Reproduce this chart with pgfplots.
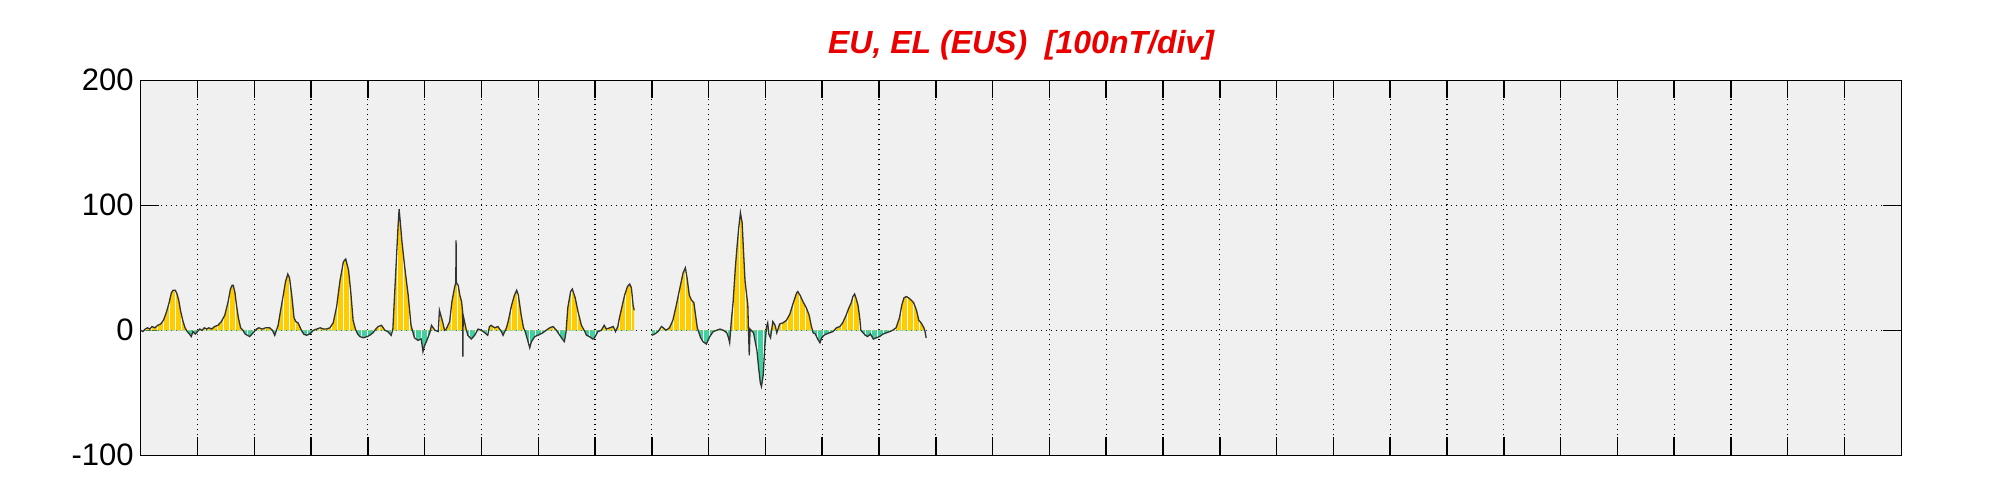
\documentclass[border=0pt]{standalone}
\usepackage{fontspec}
\setmainfont{Liberation Sans}
\usepackage{pgfplots}
\pgfplotsset{compat=1.18}
\usepackage{pgfplotstable}
\usetikzlibrary{patterns}
\definecolor{bggray}{RGB}{240,240,240}
\definecolor{posfill}{RGB}{255,204,0}
\definecolor{negfill}{RGB}{66,208,160}
\definecolor{linecol}{RGB}{50,50,50}
\definecolor{titlered}{RGB}{235,0,0}

\pgfplotstableread{
x y
0.00 0
0.04 -1
0.08 1
0.12 2
0.16 1
0.20 3
0.25 2
0.30 4
0.35 5
0.40 8
0.45 14
0.50 22
0.54 30
0.57 32
0.61 32
0.64 29
0.67 24
0.70 16
0.74 8
0.78 2
0.82 -1
0.86 -3
0.89 -5
0.92 -1
0.96 -3
1.00 -1
1.04 1
1.08 0
1.12 2
1.16 1
1.20 2
1.25 1
1.30 3
1.36 4
1.42 7
1.48 12
1.54 23
1.58 33
1.61 36
1.63 36
1.66 30
1.69 19
1.72 10
1.76 2
1.80 0
1.84 -3
1.88 -4
1.92 -5
1.96 -3
2.00 -1
2.04 1
2.08 2
2.14 1
2.20 2
2.27 2
2.32 0
2.36 -4
2.39 0
2.42 4
2.46 15
2.51 28
2.55 39
2.59 45
2.62 42
2.66 28
2.70 10
2.73 7
2.77 6
2.80 3
2.83 0
2.87 -3
2.92 -4
2.97 -3
3.00 -2
3.04 0
3.10 1
3.16 2
3.22 1
3.27 1
3.33 2
3.39 6
3.45 19
3.51 40
3.57 55
3.61 57
3.66 48
3.70 30
3.74 8
3.78 1
3.82 -3
3.86 -5
3.92 -6
3.99 -5
4.03 -4
4.09 -2
4.14 1
4.18 3
4.24 4
4.30 0
4.35 -1
4.41 -4
4.44 1
4.47 28
4.50 55
4.53 82
4.55 97
4.57 87
4.60 71
4.65 50
4.71 28
4.76 4
4.79 -1
4.82 -6
4.88 -8
4.94 -7
4.97 -17
5.00 -12
5.03 -9
5.09 -2
5.12 4
5.18 0
5.24 -1
5.26 16
5.29 11
5.32 6
5.35 0
5.38 1
5.44 7
5.48 23
5.53 35
5.548 38
5.553 72
5.558 38
5.59 36
5.62 28
5.65 23
5.668 15
5.673 -21
5.678 12
5.73 1
5.76 -4
5.82 -7
5.88 -4
5.94 1
6.00 0
6.06 -2
6.11 -4
6.14 3
6.17 4
6.23 2
6.29 3
6.35 -1
6.38 -4
6.41 -1
6.44 2
6.47 7
6.53 20
6.58 28
6.62 32
6.65 28
6.70 12
6.74 2
6.77 -1
6.82 -9
6.85 -14
6.88 -9
6.94 -5
6.99 -4
7.08 -2
7.14 0
7.20 2
7.26 3
7.32 0
7.38 -4
7.44 -8
7.46 -9
7.49 -1
7.52 18
7.57 31
7.60 33
7.65 26
7.70 15
7.76 4
7.82 -1
7.85 -4
7.90 -5
7.96 -7
7.99 -6
8.05 -1
8.11 0
8.16 4
8.20 1
8.26 2
8.32 3
8.36 -1
8.40 3
8.43 10
8.47 18
8.52 28
8.57 35
8.61 37
8.64 34
8.67 20
8.69 16
}\segA

\pgfplotstableread{
x y
9.00 -4
9.05 -3
9.11 -1
9.17 3
9.20 2
9.25 0
9.31 2
9.37 8
9.43 20
9.49 33
9.55 46
9.59 50
9.62 42
9.66 28
9.70 24
9.74 22
9.77 12
9.80 2
9.83 -2
9.86 -6
9.90 -9
9.96 -11
10.02 -5
10.08 -1
10.14 0
10.20 1
10.26 0
10.32 -2
10.35 -6
10.37 -10
10.40 8
10.43 22
10.47 50
10.50 67
10.53 82
10.56 94
10.59 86
10.61 67
10.64 40
10.67 28
10.69 20
10.70 2
10.715 -20
10.73 1
10.79 -2
10.82 -9
10.85 -16
10.88 -30
10.91 -42
10.93 -45
10.96 -36
10.99 -12
11.02 3
11.04 6
11.06 -3
11.09 -6
11.13 7
11.17 4
11.20 -2
11.25 5
11.31 6
11.37 8
11.43 13
11.49 22
11.55 30
11.57 31
11.61 28
11.66 23
11.72 18
11.77 12
11.81 3
11.84 -2
11.88 -3
11.92 -7
11.96 -10
11.99 -6
12.03 -4
12.07 -3
12.13 -2
12.19 -1
12.25 2
12.31 3
12.36 6
12.42 12
12.47 18
12.51 22
12.54 27
12.57 29
12.60 25
12.63 20
12.66 10
12.68 0
12.72 -2
12.76 -4
12.80 -5
12.85 -3
12.90 -7
12.95 -6
13.01 -5
13.07 -3
13.13 -2
13.19 -1
13.24 0
13.30 2
13.36 10
13.40 20
13.44 26
13.48 27
13.52 26
13.57 24
13.61 22
13.66 16
13.70 8
13.74 6
13.79 2
13.81 -1
13.83 -6
}\segB

\pgfplotsset{
  overlayaxis/.style={anchor=south west, scale only axis, width=880.3pt,
    xmin=0, xmax=31, hide axis},
  posarea/.style={draw=none, fill=posfill, postaction={pattern=vertical lines, pattern color=white}},
  negarea/.style={draw=none, fill=negfill, postaction={pattern=vertical lines, pattern color=white}},
}

\begin{document}
\begin{tikzpicture}
\useasboundingbox (-70.35pt,-22.35pt) rectangle (930.15pt,227.65pt);
% frame, background, grid, ticks
\begin{axis}[
  at={(0,0)}, anchor=south west,
  scale only axis, width=880.3pt, height=187.5pt,
  xmin=0, xmax=31, ymin=-100, ymax=200,
  xtick={0,1,...,31},
  xticklabel style={opacity=0},
  ytick={-100,0,100,200}, yticklabels={-100,0,100,200},
  tick pos=both, tick align=inside,
  major tick length=9pt,
  tick style={black, line width=0.75pt},
  axis line style={black, line width=0.75pt},
  grid=major,
  grid style={black, line width=0.6pt, dash pattern=on 0.6pt off 1.9pt},
  axis background/.style={fill=bggray},
  yticklabel style={font=\fontsize{15.5}{18}\selectfont, text=black},
]
\addplot[draw=none, forget plot] coordinates {(0,0) (31,0)};
\end{axis}
% positive areas (clipped to y >= 0)
\begin{axis}[overlayaxis, at={(0,62.5pt)}, height=125pt, ymin=0, ymax=200]
\addplot[posarea] table[x=x,y=y] {\segA} \closedcycle;
\addplot[posarea] table[x=x,y=y] {\segB} \closedcycle;
\end{axis}
% negative areas (clipped to y <= 0)
\begin{axis}[overlayaxis, at={(0,0)}, height=62.5pt, ymin=-100, ymax=0]
\addplot[negarea] table[x=x,y=y] {\segA} \closedcycle;
\addplot[negarea] table[x=x,y=y] {\segB} \closedcycle;
\end{axis}
% data line
\begin{axis}[overlayaxis, at={(0,0)}, height=187.5pt, ymin=-100, ymax=200]
\addplot[linecol, line width=0.65pt] table[x=x,y=y] {\segA};
\addplot[linecol, line width=0.65pt] table[x=x,y=y] {\segB};
\end{axis}
\node[anchor=base, text=titlered, font=\fontsize{16}{19}\selectfont\bfseries\itshape] at (440.15pt,201pt) {EU, EL (EUS)\ \ [100nT/div]};
\end{tikzpicture}
\end{document}
